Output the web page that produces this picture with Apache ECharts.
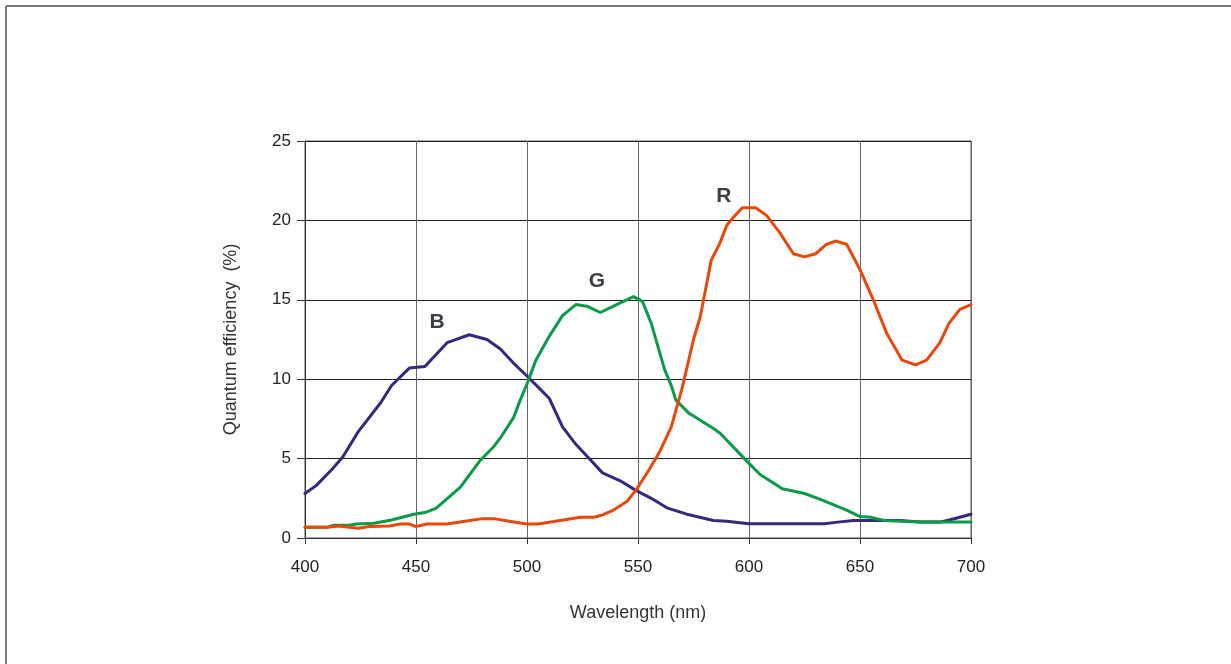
<!DOCTYPE html>
<html>
<head>
<meta charset="utf-8">
<script src="https://cdn.jsdelivr.net/npm/echarts@6/dist/echarts.min.js"></script>
<style>
html,body{margin:0;padding:0;background:#fff;}
#chart{width:1231px;height:664px;}
</style>
</head>
<body>
<div id="chart"></div>
<script>
// Wavelength (nm) and quantum efficiency (%) for each channel
var blueNm = [400,405,412,417,424,434,439,447,454,464,474,482,488,494,500,505,510,516,522,528,534,542,549,556,563,572,584,590,600,620,634,640,647,668,677,686,692,700];
var blueQE = [2.8,3.3,4.3,5.1,6.7,8.5,9.6,10.7,10.8,12.3,12.8,12.5,11.9,11.0,10.2,9.5,8.8,7.0,5.9,5.0,4.1,3.6,3.0,2.5,1.9,1.5,1.1,1.05,0.9,0.9,0.9,1.0,1.1,1.1,1.0,1.0,1.2,1.5];

var greenNm = [400,410,413,420,423,431,439,449,454,459,470,479,485,488,494,497,500,504,510,516,522,527,533,542,548,552,556,562,565,567,573,584,587,600,605,615,625,631,644,650,655,661,677,700];
var greenQE = [0.67,0.67,0.8,0.8,0.88,0.93,1.13,1.5,1.6,1.87,3.2,4.9,5.75,6.3,7.6,8.7,9.7,11.2,12.7,14.0,14.7,14.6,14.2,14.8,15.2,14.9,13.5,10.6,9.6,8.7,7.85,6.9,6.6,4.7,4.0,3.1,2.8,2.5,1.75,1.35,1.3,1.1,1.0,1.0];

var redNm = [400,410,415,420,424,429,438,443,447,450,455,464,472,480,485,492,500,505,515,524,530,534,539,545,549,555,560,565,570,575,578,583,587,590,593,597,603,608,614,620,625,630,635,639,644,650,656,662,669,675,680,686,690,695,700];
var redQE = [0.67,0.67,0.75,0.67,0.61,0.72,0.76,0.88,0.88,0.72,0.88,0.88,1.05,1.22,1.22,1.05,0.88,0.88,1.1,1.3,1.3,1.45,1.76,2.3,3.0,4.3,5.5,7.0,9.5,12.5,13.9,17.5,18.6,19.7,20.2,20.8,20.8,20.3,19.2,17.9,17.7,17.9,18.5,18.7,18.5,16.9,15.0,12.9,11.2,10.9,11.2,12.3,13.5,14.4,14.7];

var channelNames = ['B','G','R'];
var labelPos = [[459.5,13.6],[531.5,16.2],[588.7,21.5]];
var xTicks = [400,450,500,550,600,650,700];
var yTicks = [0,5,10,15,20,25];

function pairs(xs, ys){ return xs.map(function(x,i){ return [x, ys[i]]; }); }

var colors = ['#35297a','#0a9a48','#e8480c'];
var dataSets = [pairs(blueNm,blueQE), pairs(greenNm,greenQE), pairs(redNm,redQE)];

var font = '"Liberation Sans", Arial, sans-serif';

var series = dataSets.map(function(d, i){
  return {
    type: 'line',
    name: channelNames[i],
    data: d,
    showSymbol: false,
    symbol: 'none',
    lineStyle: {color: colors[i], width: 3, join: 'round', cap: 'round'},
    z: 3,
    markPoint: {
      symbol: 'circle', symbolSize: 0,
      data: [{coord: labelPos[i], value: channelNames[i]}],
      label: {show: true, formatter: channelNames[i], color: '#3a3e45', fontSize: 21, fontWeight: 'bold', fontFamily: font, position: 'inside'}
    }
  };
});

var chart = echarts.init(document.getElementById('chart'), null, {renderer: 'canvas'});
chart.setOption({
  animation: false,
  backgroundColor: '#fff',
  grid: {left: 305, right: 260, top: 141, bottom: 126, show: true, borderColor: '#555', borderWidth: 1},
  xAxis: {
    type: 'value', min: xTicks[0], max: xTicks[xTicks.length-1], interval: 50,
    name: 'Wavelength (nm)', nameLocation: 'middle', nameGap: 66,
    nameTextStyle: {fontSize: 18, color: '#333', fontFamily: font},
    axisLine: {show: true, lineStyle: {color: '#333', width: 1}},
    axisTick: {show: true, length: 6, lineStyle: {color: '#333'}},
    axisLabel: {fontSize: 17, color: '#222', margin: 21, fontFamily: font},
    splitLine: {show: true, lineStyle: {color: '#666', width: 1}}
  },
  yAxis: {
    type: 'value', min: yTicks[0], max: yTicks[yTicks.length-1], interval: 5,
    name: 'Quantum efficiency  (%)', nameLocation: 'middle', nameGap: 65, nameRotate: 90,
    nameTextStyle: {fontSize: 18, color: '#333', fontFamily: font},
    axisLine: {show: true, lineStyle: {color: '#333', width: 1}},
    axisTick: {show: true, length: 8, lineStyle: {color: '#333'}},
    axisLabel: {fontSize: 17, color: '#222', margin: 14, fontFamily: font},
    splitLine: {show: true, lineStyle: {color: '#222', width: 1}}
  },
  graphic: [
    {type: 'line', shape: {x1: 6, y1: 6, x2: 1231, y2: 6}, style: {stroke: '#7a7a7a', lineWidth: 2}},
    {type: 'line', shape: {x1: 6, y1: 6, x2: 6, y2: 664}, style: {stroke: '#7a7a7a', lineWidth: 2}}
  ],
  series: series
});
</script>
</body>
</html>
